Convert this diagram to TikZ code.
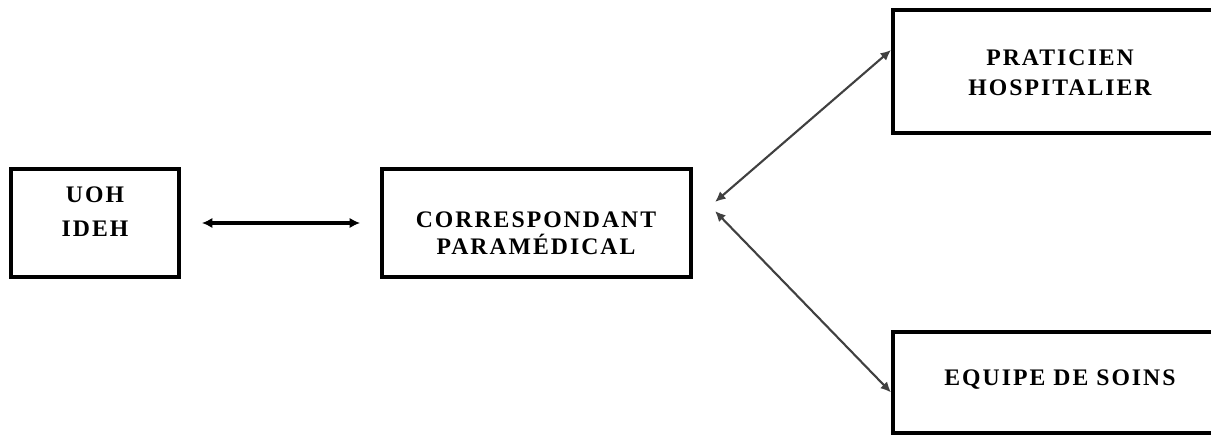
\documentclass[tikz,border=0pt]{standalone}
\usepackage{fontspec}
\setmainfont{Liberation Serif}
\usetikzlibrary{arrows.meta,calc}

\begin{document}
\begin{tikzpicture}[>={Latex[length=6pt,width=6pt]},
            box/.style={draw, rectangle, line width=2.2pt, inner sep=0pt,
                        minimum height=2.16cm},
            lbl/.style={font=\fontsize{13.5}{16.5}\selectfont\bfseries\addfontfeature{LetterSpace=8.5},
                        align=center, inner sep=0pt},
            link/.style={<->, line width=2pt},
            diag/.style={<->, line width=1.2pt, black!75,
                         >={Latex[length=6pt,width=5.5pt]}}]

        \useasboundingbox (0,0) rectangle (24.22,-8.70);
        \clip (0,0) rectangle (24.22,-8.70);

        % boxes
        \node[box, minimum width=3.36cm]                    (uoh)    at (1.90,-4.46)  {};
        \node[box, minimum width=6.18cm]                    (corr)   at (10.73,-4.46) {};
        \node[box, minimum width=6.94cm, minimum height=2.46cm] (prat)   at (21.33,-1.43) {};
        \node[box, minimum width=6.94cm, minimum height=2.02cm] (equipe) at (21.33,-7.65) {};

        % labels
        \node[lbl] (uohtxt)    at (1.90,-4.23)  {UOH\\[2.5pt]IDEH};
        \node[lbl] (corrtxt)   at (10.72,-4.67) {CORRESPONDANT\\[-1pt]PARAMÉDICAL};
        \node[lbl] (prattxt)   at (21.20,-1.46) {PRATICIEN\\[0.5pt]HOSPITALIER};
        \node[lbl] (equipetxt) at (21.20,-7.60) {EQUIPE DE SOINS};

        % arrow ends at the hub
        \coordinate (hubup)   at (14.30,-4.04);
        \coordinate (hubdown) at (14.30,-4.22);

        \draw[link, shorten <=0.42cm, shorten >=0.40cm] (uoh.east) -- (corr.west);
        \draw[diag] (hubup)   -- ($(prat.west)+(0,0.43)$);
        \draw[diag] (hubdown) -- ($(equipe.west)+(0,-0.20)$);

    \end{tikzpicture}
\end{document}
